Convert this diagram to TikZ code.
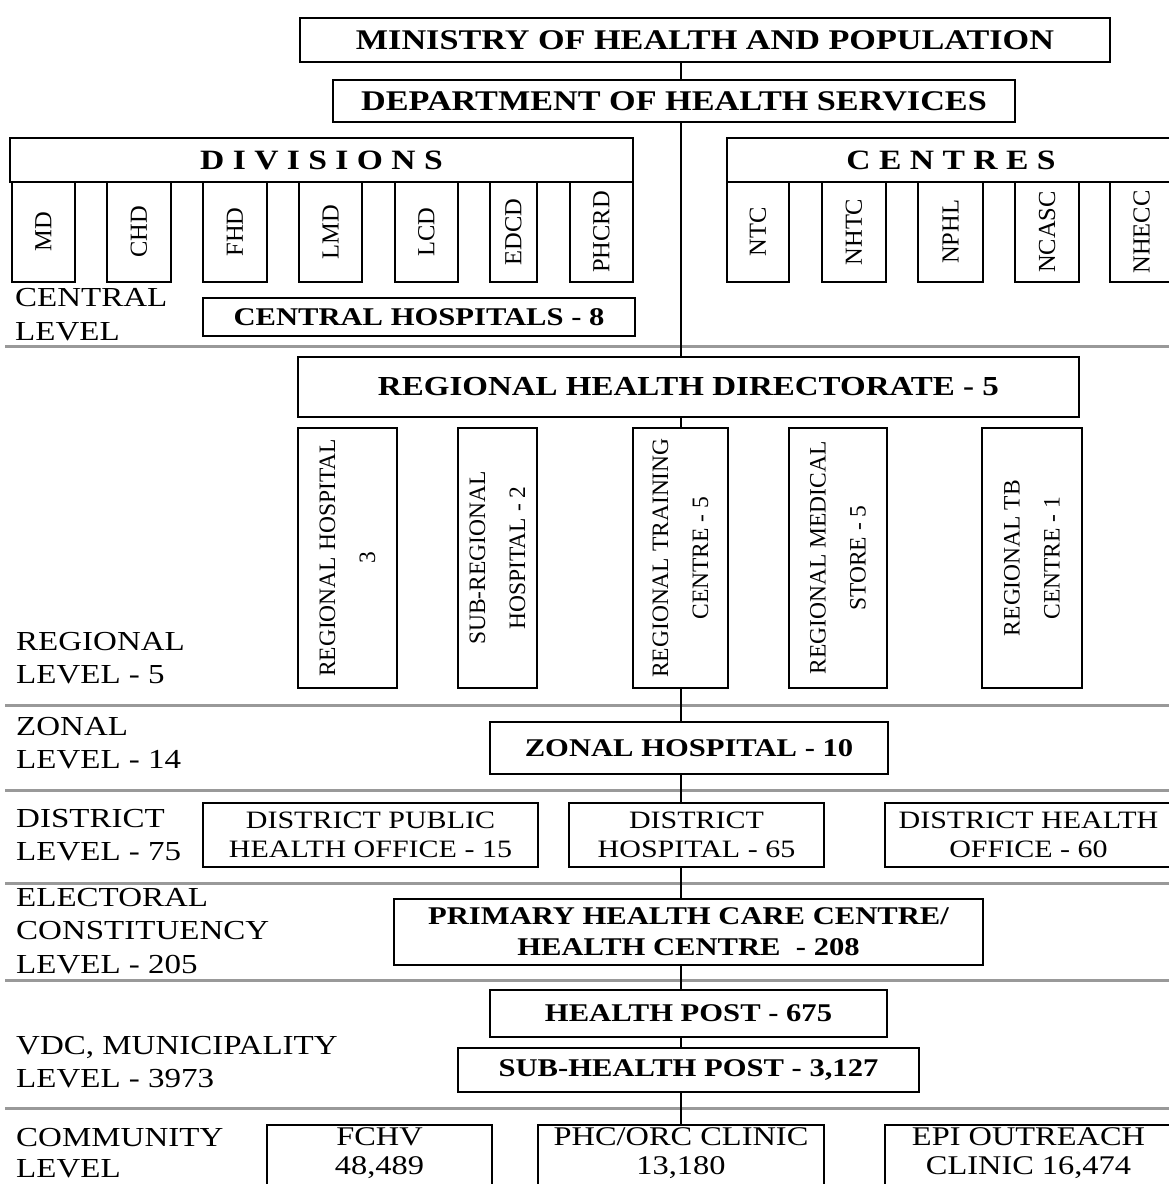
\documentclass[tikz,border=0pt]{standalone}
\usepackage{fontspec}
\setmainfont{Liberation Serif}[FakeStretch=1.2]
\newfontfamily\upfont{Liberation Serif}

\begin{document}
\begin{tikzpicture}[
  x=1pt,y=-1pt,
  box/.style={draw,line width=2pt,inner sep=0pt,align=center},
  topbox/.style={box,font=\bfseries\fontsize{28.5}{34}\selectfont},
  hbox/.style={box,font=\bfseries\fontsize{25.5}{31}\selectfont},
  nbox/.style={box,font=\fontsize{25}{29}\selectfont},
  cbox/.style={box,anchor=north,inner ysep=3pt,text depth=34pt,font=\fontsize{27}{29}\selectfont},
  vbox/.style={box,rotate=90,font=\upfont\fontsize{24.5}{28}\selectfont},
  rbox/.style={box,rotate=90,font=\upfont\fontsize{23.5}{40}\selectfont},
  lvl/.style={anchor=west,align=left,inner sep=0pt,font=\fontsize{27.5}{33.5}\selectfont},
  sep/.style={line width=3pt,black!40},
  link/.style={line width=2pt}
]
  \clip (0,0) rectangle (1169,1184);

  % central level
  \node[topbox,minimum width=810,minimum height=44] (min) at (705,40) {MINISTRY OF HEALTH AND POPULATION};
  \node[topbox,minimum width=682,minimum height=42] (dhs) at (674,101) {DEPARTMENT OF HEALTH SERVICES};

  \node[topbox,font=\bfseries\fontsize{28}{34}\selectfont,minimum width=623,minimum height=44] (div) at (321.5,160) {D I V I S I O N S};
  \node[vbox,minimum width=100,minimum height=63] (md) at (43.5,232) {MD};
  \node[vbox,minimum width=100,minimum height=64] (chd) at (139,232) {CHD};
  \node[vbox,minimum width=100,minimum height=64] (fhd) at (235,232) {FHD};
  \node[vbox,minimum width=100,minimum height=63] (lmd) at (330.5,232) {LMD};
  \node[vbox,minimum width=100,minimum height=63] (lcd) at (426.5,232) {LCD};
  \node[vbox,minimum width=100,minimum height=47] (edcd) at (513.5,232) {EDCD};
  \node[vbox,minimum width=100,minimum height=63] (phcrd) at (601.5,232) {PHCRD};

  \node[topbox,font=\bfseries\fontsize{28}{34}\selectfont,minimum width=448,minimum height=44] (cen) at (951,160) {C E N T R E S};
  \node[vbox,minimum width=100,minimum height=62] (ntc) at (758,232) {NTC};
  \node[vbox,minimum width=100,minimum height=64] (nhtc) at (854,232) {NHTC};
  \node[vbox,minimum width=100,minimum height=65] (nphl) at (950.5,232) {NPHL};
  \node[vbox,minimum width=100,minimum height=64] (ncasc) at (1047,232) {NCASC};
  \node[vbox,minimum width=100,minimum height=63] (nhecc) at (1141.5,232) {NHECC};

  \node[hbox,minimum width=432,minimum height=38] (ch) at (419,317) {CENTRAL HOSPITALS - 8};

  % regional level
  \node[box,font=\bfseries\fontsize{27.5}{33}\selectfont,minimum width=781,minimum height=60] (rhd) at (688.5,387) {REGIONAL HEALTH DIRECTORATE - 5};
  \node[rbox,minimum width=260,minimum height=99] (rh) at (347.5,558) {REGIONAL HOSPITAL\\3};
  \node[rbox,minimum width=260,minimum height=79] (srh) at (497.5,558) {SUB-REGIONAL\\HOSPITAL - 2};
  \node[rbox,minimum width=260,minimum height=95] (rtc) at (680.5,558) {REGIONAL TRAINING\\CENTRE - 5};
  \node[rbox,minimum width=260,minimum height=98] (rms) at (838,558) {REGIONAL MEDICAL\\STORE - 5};
  \node[rbox,minimum width=260,minimum height=100] (rtb) at (1032,558) {REGIONAL TB\\CENTRE - 1};

  % zonal, district, constituency
  \node[hbox,minimum width=398,minimum height=52] (zh) at (689,748) {ZONAL HOSPITAL - 10};
  \node[nbox,minimum width=335,minimum height=64] (dpho) at (370.5,835) {DISTRICT PUBLIC\\HEALTH OFFICE - 15};
  \node[nbox,minimum width=255,minimum height=64] (dh) at (696.5,835) {DISTRICT\\HOSPITAL - 65};
  \node[nbox,minimum width=287,minimum height=64] (dho) at (1028.5,835) {DISTRICT HEALTH\\OFFICE - 60};
  \node[hbox,minimum width=589,minimum height=66] (phcc) at (688.5,932) {PRIMARY HEALTH CARE CENTRE/\\HEALTH CENTRE \ - 208};

  % vdc and community
  \node[hbox,minimum width=397,minimum height=47] (hp) at (688.5,1013.5) {HEALTH POST - 675};
  \node[hbox,minimum width=461,minimum height=44] (shp) at (688.5,1070) {SUB-HEALTH POST - 3,127};
  \node[cbox,minimum width=225] (fchv) at (379.5,1124) {FCHV\\48,489};
  \node[cbox,minimum width=286] (orc) at (681,1124) {PHC/ORC CLINIC\\13,180};
  \node[cbox,minimum width=287] (epi) at (1028.5,1124) {EPI OUTREACH\\CLINIC 16,474};

  % level names
  \node[lvl] (lcen) at (15,314.5) {CENTRAL\\LEVEL};
  \node[lvl] (lreg) at (16,658) {REGIONAL\\LEVEL - 5};
  \node[lvl] (lzon) at (16,743) {ZONAL\\LEVEL - 14};
  \node[lvl] (ldis) at (16,835) {DISTRICT\\LEVEL - 75};
  \node[lvl] (lele) at (16,931) {ELECTORAL\\CONSTITUENCY\\LEVEL - 205};
  \node[lvl] (lvdc) at (16,1062) {VDC, MUNICIPALITY\\LEVEL - 3973};
  \node[lvl,font=\fontsize{27.5}{31.5}\selectfont] (lcom) at (16,1153) {COMMUNITY\\LEVEL};

  % level separators
  \foreach \y in {346,705,790,883,980,1108}
    \draw[sep] (5,\y) -- (1180,\y);

  \draw[link] (min.south -| rtc) -- (dhs.north -| rtc);
  \draw[link] (dhs.south -| rtc) -- (rhd.north -| rtc);
  \draw[link] (rhd.south -| rtc) -- (rtc.east);
  \draw[link] (rtc.west) -- (zh.north -| rtc);
  \draw[link] (zh.south -| rtc) -- (dh.north -| rtc);
  \draw[link] (dh.south -| rtc) -- (phcc.north -| rtc);
  \draw[link] (phcc.south -| rtc) -- (hp.north -| rtc);
  \draw[link] (hp.south -| rtc) -- (shp.north -| rtc);
  \draw[link] (shp.south -| rtc) -- (orc.north -| rtc);
\end{tikzpicture}
\end{document}
